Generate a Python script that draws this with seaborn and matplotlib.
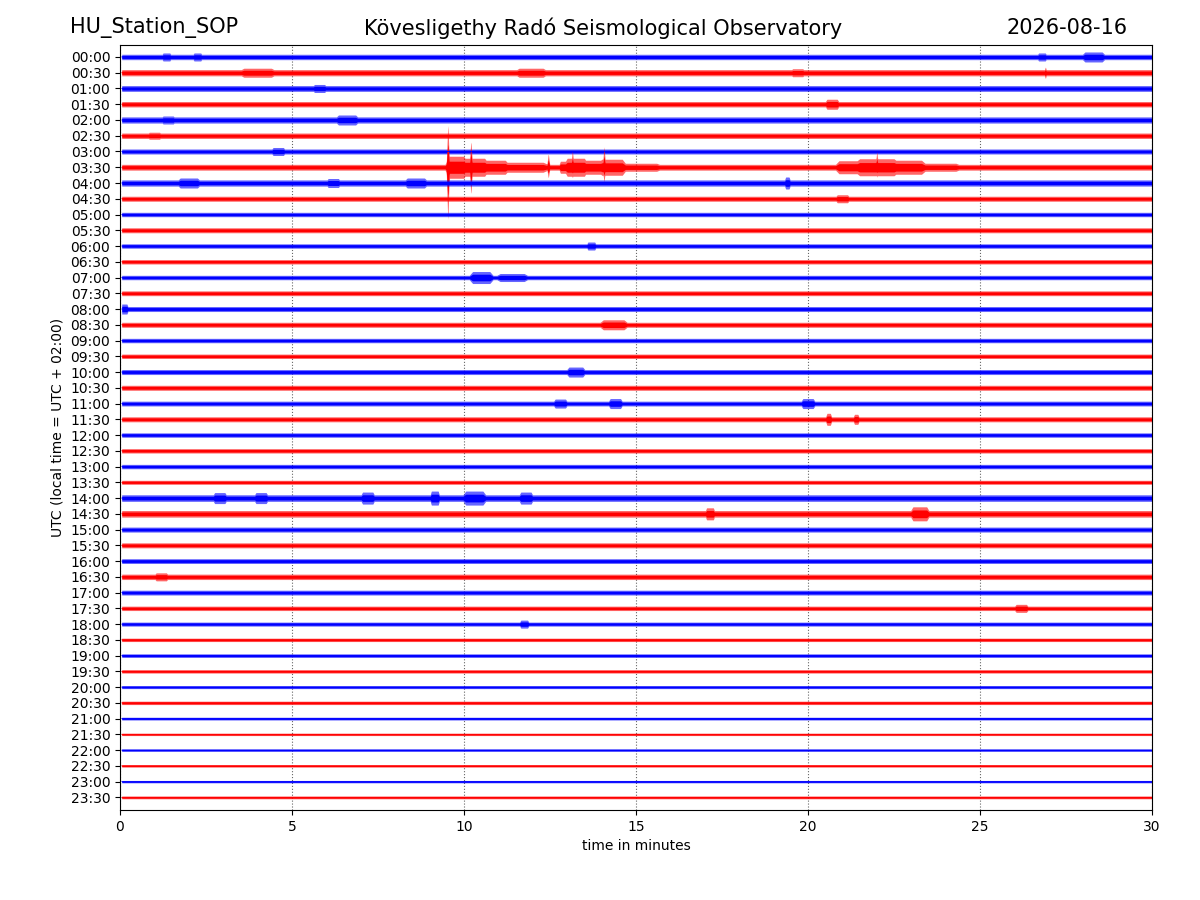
import numpy as np
import pandas as pd
import matplotlib
matplotlib.use("Agg")
import matplotlib.pyplot as plt
import seaborn as sns

# -----------------------------
# Data (amplitudes in screen pixels, 1 row = 15.74 px)
# -----------------------------
row_labels = [f"{h:02d}:{m:02d}" for h in range(24) for m in (0, 30)]

# quiet-time half amplitude of each 30 minute line
base_amp = [2.7, 3.1, 2.9, 2.7, 3.1, 2.7, 2.5, 2.9, 3.1, 2.5,
            2.2, 2.5, 2.2, 2.2, 2.2, 2.4, 2.5, 2.5, 2.2, 2.2,
            2.5, 2.5, 2.4, 2.5, 2.2, 2.2, 2.2, 2.0, 3.3, 3.3,
            2.5, 2.5, 2.4, 2.7, 2.4, 2.2, 2.0, 1.7, 1.8, 1.7,
            1.5, 1.7, 1.4, 1.2, 1.2, 1.2, 1.2, 1.4]

# noisy stretches: line, start minute, end minute, half amplitude
burst_row = (["00:00"] * 4 + ["00:30"] * 3 + ["01:00", "01:30"]
             + ["02:00"] * 2 + ["02:30", "03:00"] + ["03:30"] * 13
             + ["04:00"] * 4 + ["04:30", "06:00"] + ["07:00"] * 2
             + ["08:00", "08:30", "10:00"] + ["11:00"] * 3 + ["11:30"] * 2
             + ["14:00"] * 6 + ["14:30"] * 2 + ["16:30", "17:30", "18:00"])
burst_start = [1.25, 2.15, 28.05, 26.7, 3.6, 11.6, 19.55, 5.65, 20.55, 1.25,
               6.35, 0.85, 4.45,
               9.55, 10.0, 10.6, 11.2, 12.8, 13.0, 13.5, 14.0, 14.6,
               20.9, 21.5, 22.5, 23.3,
               1.75, 6.05, 8.35, 19.35, 20.85, 13.6, 10.25, 11.05, 0.05,
               14.05, 13.05, 12.65, 14.25, 19.85, 20.55, 21.35, 2.75, 3.95,
               7.05, 9.05, 10.05, 11.65, 17.05, 23.05, 1.05, 26.05, 11.65]
burst_end = [1.45, 2.35, 28.55, 26.9, 4.4, 12.3, 19.85, 5.95, 20.85, 1.55,
             6.85, 1.15, 4.75,
             10.0, 10.6, 11.2, 12.3, 13.0, 13.5, 14.0, 14.6, 15.6,
             21.5, 22.5, 23.3, 24.3,
             2.25, 6.35, 8.85, 19.45, 21.15, 13.8, 10.75, 11.75, 0.2, 14.65,
             13.45, 12.95, 14.55, 20.15, 20.65, 21.45, 3.05, 4.25, 7.35,
             9.25, 10.55, 11.95, 17.25, 23.45, 1.35, 26.35, 11.85]
burst_amp = [4.0, 4.0, 5.0, 4.0, 4.5, 4.5, 4.0, 4.0, 5.0, 4.0, 5.0, 3.5,
             4.0,
             11.0, 9.0, 7.0, 5.0, 6.0, 9.0, 7.0, 8.0, 4.0,
             6.5, 8.5, 7.0, 4.0,
             5.0, 4.5, 5.0, 6.0, 4.0, 4.0, 6.0, 4.0, 5.0, 5.0, 5.0, 4.5,
             5.0, 5.0, 6.0, 5.0, 5.5, 5.5, 6.0, 7.0, 7.0, 6.0, 6.0, 7.0,
             4.0, 4.0, 4.0]

# sharp arrivals: line, minute, swing up, swing down
spike_row = ["03:30", "03:30", "03:30", "03:30", "03:30", "03:30", "00:30"]
spike_time = [9.53, 10.2, 12.45, 13.15, 14.07, 22.0, 26.9]
spike_up = [44.0, 27.0, 14.0, 17.0, 21.0, 16.0, 6.0]
spike_down = [55.0, 28.0, 11.0, 11.0, 15.0, 10.0, 6.0]

row_px = 15.74
colors = ["blue", "red"]

# -----------------------------
# Build the envelope of every line
# -----------------------------
t = np.linspace(0.05, 30, 3000)
rows = []
for i, lab in enumerate(row_labels):
    up = np.full_like(t, base_amp[i])
    down = np.full_like(t, base_amp[i])
    for r, s, e, a in zip(burst_row, burst_start, burst_end, burst_amp):
        if r == lab:
            # full inside the stretch, tapering off just outside it
            r_len = max(0.3 * (e - s), 0.06)
            shape = np.clip((np.minimum(t - s, e - t) + r_len) / r_len, 0, 1)
            up = np.maximum(up, a * shape)
            down = np.maximum(down, a * shape)
    for r, c, u, d in zip(spike_row, spike_time, spike_up, spike_down):
        if r == lab:
            tri = np.clip(1 - np.abs(t - c) / 0.05, 0, 1)
            up = np.maximum(up, u * tri)
            down = np.maximum(down, d * tri)
    rows.append(pd.DataFrame({"t": t, "row": i, "label": lab,
                              "up": up / row_px, "down": down / row_px}))
df = pd.concat(rows, ignore_index=True)

# -----------------------------
# Plot
# -----------------------------
sns.set_style("ticks")
plt.rcParams["font.family"] = ["DejaVu Sans"]
plt.rcParams.update({"text.color": "black", "axes.labelcolor": "black",
                     "xtick.color": "black", "ytick.color": "black",
                     "axes.edgecolor": "black"})
fig, ax = plt.subplots(figsize=(12, 9), dpi=100)
fig.subplots_adjust(left=0.1, right=0.96, bottom=0.1, top=0.95)

ax.set_axisbelow(True)
ax.xaxis.grid(True, color="k", linestyle=":", linewidth=0.8, alpha=0.6)

for i, g in df.groupby("row"):
    col = colors[i % 2]
    ax.fill_between(g["t"], i - g["up"], i + g["down"], color=col,
                    alpha=0.6, linewidth=0)
    ax.fill_between(g["t"], i - 0.55 * g["up"], i + 0.55 * g["down"],
                    color=col, alpha=1.0, linewidth=0)

centre = df.assign(y=df["row"])
sns.lineplot(data=centre, x="t", y="y", hue="row", units="row",
             estimator=None, palette=[colors[i % 2] for i in range(48)],
             linewidth=0.6, legend=False, ax=ax, sort=False)

ax.set_xlim(0, 30)
ax.set_ylim(47.8, -0.76)
ax.set_xticks([0, 5, 10, 15, 20, 25, 30])
ax.set_yticks(range(len(row_labels)))
ax.set_yticklabels(row_labels)
ax.set_xlabel("time in minutes")
ax.set_ylabel("UTC (local time = UTC + 02:00)")
for s in ax.spines.values():
    s.set_color("black")
    s.set_visible(True)
ax.tick_params(colors="black", length=3.5)

fig.text(0.058, 0.969, "HU_Station_SOP", ha="left", va="center", fontsize=15)
fig.text(0.503, 0.969, "Kövesligethy Radó Seismological Observatory",
         ha="center", va="center", fontsize=15)
fig.text(0.94, 0.969, "2026-08-16", ha="right", va="center", fontsize=15)

fig.savefig("out.png", dpi=100)
